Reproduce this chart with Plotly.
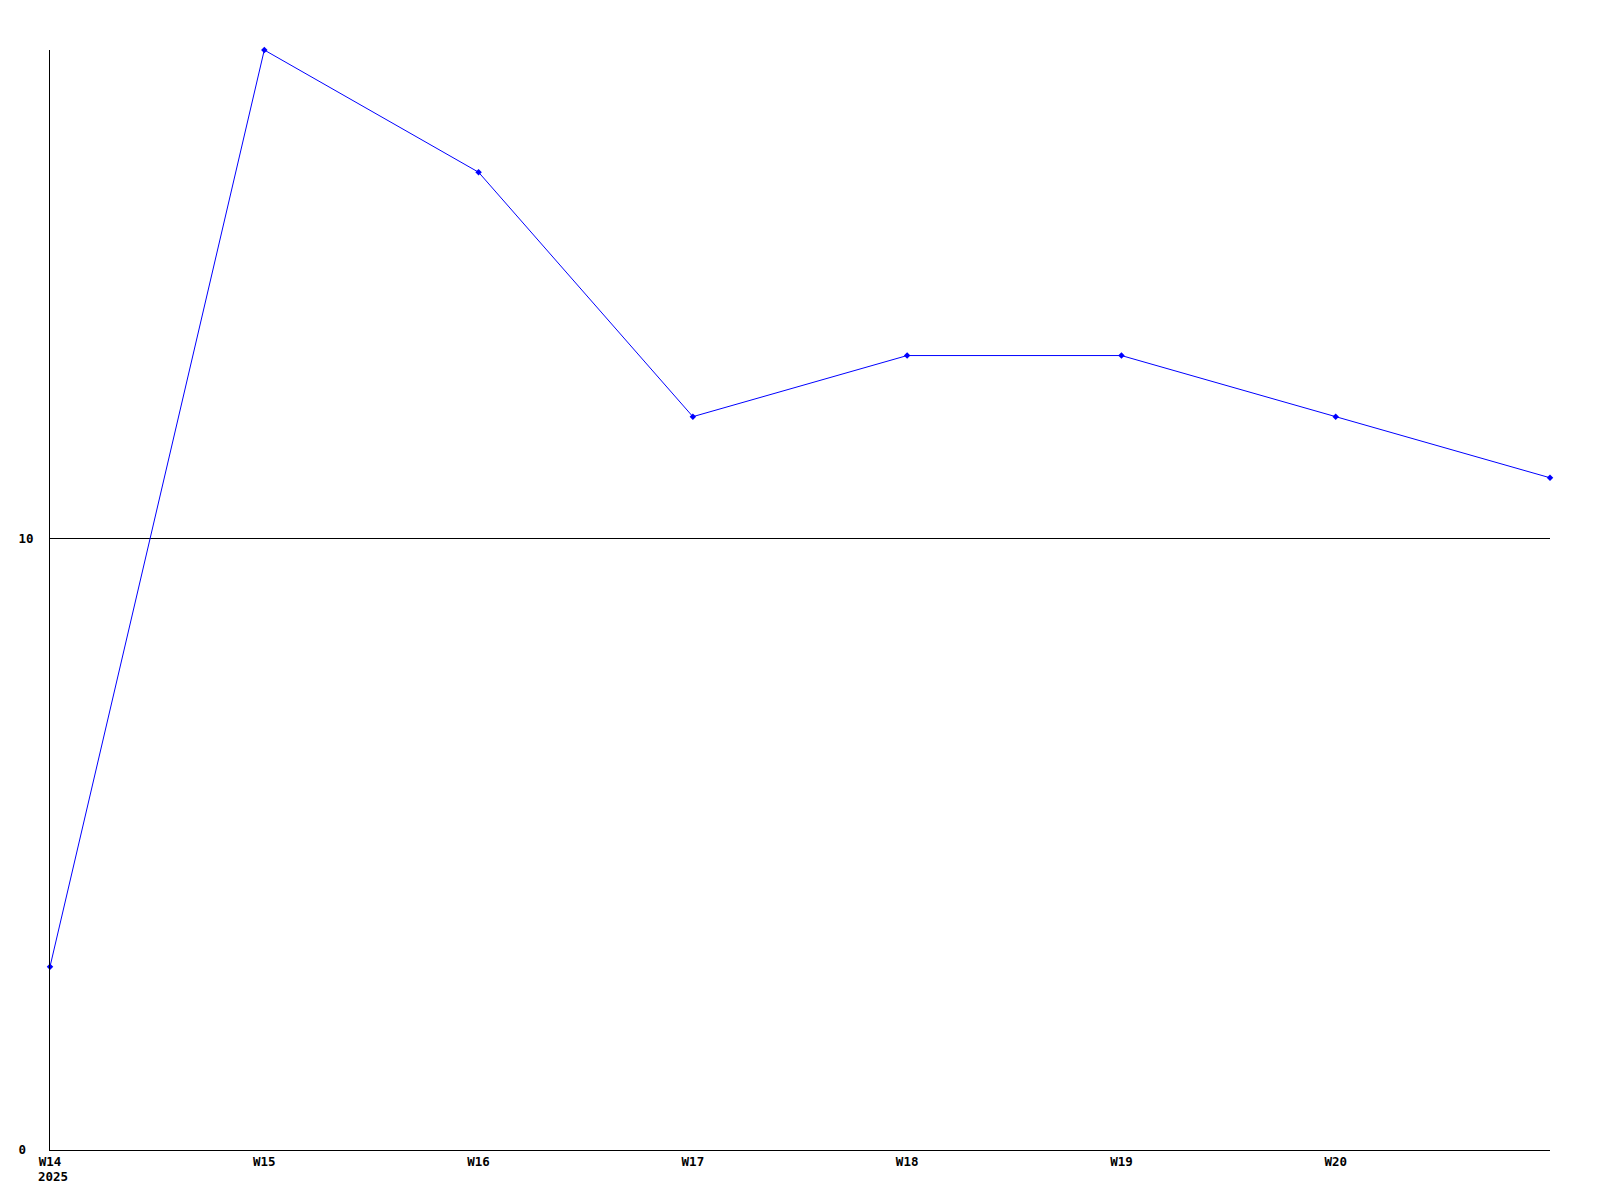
import plotly.graph_objects as go

weeks = ["W14", "W15", "W16", "W17", "W18", "W19", "W20", "W21"]
values = [3, 18, 16, 12, 13, 13, 12, 11]
tick_weeks = ["W14", "W15", "W16", "W17", "W18", "W19", "W20"]
y_ticks = [0, 10]
y_tick_text = ["0\u00a0", "10"]
year_label = "2025"

fig = go.Figure()
fig.add_trace(go.Scatter(
    x=weeks, y=values, mode="lines+markers",
    line=dict(color="#0000ff", width=1),
    marker=dict(symbol="diamond", size=5, color="#0000ff"),
    showlegend=False, cliponaxis=False,
))

tickfont = dict(family="DejaVu Sans Mono", size=12.5, color="black", weight="bold")

fig.update_layout(
    width=1584, height=1184,
    margin=dict(l=42, r=42, t=42, b=42, autoexpand=False),
    paper_bgcolor="white", plot_bgcolor="white",
    xaxis=dict(
        type="category", range=[0, len(weeks) - 1],
        tickvals=tick_weeks, ticktext=tick_weeks,
        showgrid=False, zeroline=False, automargin=False,
        showline=True, linecolor="black", linewidth=1,
        ticks="", tickfont=tickfont,
    ),
    yaxis=dict(
        range=[0, 18], tickvals=y_ticks, ticktext=y_tick_text,
        showgrid=True, gridcolor="black", gridwidth=1,
        zeroline=False, automargin=False,
        showline=True, linecolor="black", linewidth=1,
        ticks="", tickfont=tickfont, ticklabelstandoff=13,
    ),
)
fig.add_annotation(
    x=weeks[0], y=0, xref="x", yref="paper", text=year_label,
    showarrow=False, xanchor="left", yanchor="top",
    xshift=-14, yshift=-17, font=tickfont,
)
fig.write_html("out.html")
